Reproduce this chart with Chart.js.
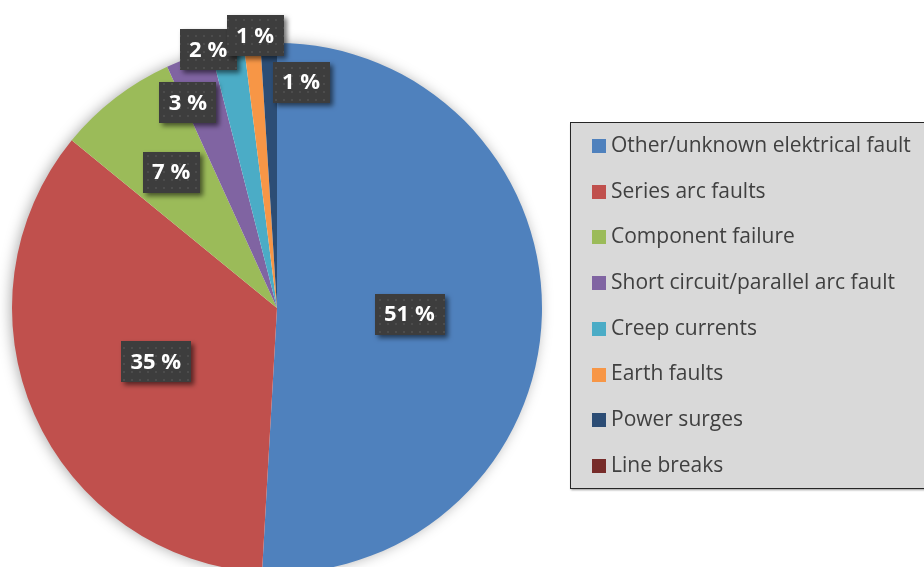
<!DOCTYPE html>
<html>
<head>
<meta charset="utf-8">
<script src="https://cdn.jsdelivr.net/npm/chart.js@4"></script>
<style>
  html, body { margin: 0; padding: 0; background: #fff; overflow: hidden; }
  canvas { display: block; }
</style>
</head>
<body>
<canvas id="myCanvas" width="924" height="600"></canvas>
<script>
// data (percent)
let categories = [
  "Other/unknown elektrical fault",
  "Series arc faults",
  "Component failure",
  "Short circuit/parallel arc fault",
  "Creep currents",
  "Earth faults",
  "Power surges",
  "Line breaks"
];
let shares = [50.9, 35.0, 7.3, 2.8, 2.0, 1.0, 1.0, 0];
let colors = ["#4f81bd", "#c0504d", "#9bbb59", "#8064a2", "#4bacc6", "#f79646", "#2c4d75", "#772c2a"];

// where each data label sits: fraction of radius, angle shift in degrees
let labelSpots = [[0.5, 1.0], [0.5, 0], [0.65, -0.3], [0.845, -4.0], [1.01, -4.1], [1.03, 0.8], [0.857, 7.9]];

function dotPattern(ctx) {
  let p = document.createElement("canvas");
  p.width = 8;
  p.height = 8;
  let c = p.getContext("2d");
  c.fillStyle = "#3d3d3d";
  c.fillRect(0, 0, 8, 8);
  c.fillStyle = "#4c4c4c";
  c.fillRect(3, 3, 2, 2);
  return ctx.createPattern(p, "repeat");
}

// soft shadow behind the whole pie
const pieShadow = {
  id: "pieShadow",
  beforeDatasetsDraw(chart) {
    let arc = chart.getDatasetMeta(0).data[0];
    if (!arc) return;
    let ctx = chart.ctx;
    ctx.save();
    ctx.shadowColor = "rgba(0,0,0,0.35)";
    ctx.shadowBlur = 14;
    ctx.shadowOffsetX = -2;
    ctx.shadowOffsetY = 0;
    ctx.fillStyle = "#ffffff";
    ctx.beginPath();
    ctx.arc(arc.x, arc.y, arc.outerRadius - 1, 0, Math.PI * 2);
    ctx.fill();
    ctx.restore();
  }
};

const boxLabels = {
  id: "boxLabels",
  afterDatasetsDraw(chart) {
    let ctx = chart.ctx;
    let pat = dotPattern(ctx);
    let meta = chart.getDatasetMeta(0);
    ctx.save();
    ctx.font = "bold 22px 'Open Sans'";
    ctx.textAlign = "center";
    ctx.textBaseline = "middle";
    meta.data.forEach(function (arc, i) {
      let v = shares[i];
      if (!v || !labelSpots[i]) return;
      let p = arc.getProps(["x", "y", "startAngle", "endAngle", "outerRadius"], true);
      let mid = (p.startAngle + p.endAngle) / 2 + labelSpots[i][1] * Math.PI / 180;
      let r = p.outerRadius * labelSpots[i][0];
      let cx = p.x + Math.cos(mid) * r;
      let cy = p.y + Math.sin(mid) * r;
      let txt = Math.round(v) + " %";
      let w = ctx.measureText(txt).width + 19;
      let h = 41;
      ctx.save();
      ctx.shadowColor = "rgba(0,0,0,0.55)";
      ctx.shadowBlur = 5;
      ctx.shadowOffsetX = 3;
      ctx.shadowOffsetY = 3;
      ctx.fillStyle = pat;
      ctx.fillRect(Math.round(cx - w / 2), Math.round(cy - h / 2), Math.round(w), h);
      ctx.restore();
      ctx.fillStyle = "#ffffff";
      ctx.fillText(txt, cx, cy + 1);
    });
    ctx.restore();
  }
};

const boxLegend = {
  id: "boxLegend",
  afterDraw(chart) {
    let ctx = chart.ctx;
    ctx.save();
    ctx.shadowColor = "rgba(0,0,0,0.4)";
    ctx.shadowBlur = 2;
    ctx.shadowOffsetX = 1;
    ctx.shadowOffsetY = 2;
    ctx.fillStyle = "#d9d9d9";
    ctx.fillRect(570, 122, 370, 366);
    ctx.restore();
    ctx.save();
    ctx.strokeStyle = "#262626";
    ctx.lineWidth = 1;
    ctx.strokeRect(570.5, 122.5, 370, 366);
    ctx.font = "21px 'Open Sans'";
    ctx.textBaseline = "middle";
    categories.forEach(function (name, i) {
      let y = 146 + i * 45.7;
      ctx.fillStyle = colors[i];
      ctx.fillRect(592, Math.round(y - 7), 14, 14);
      ctx.fillStyle = "#404040";
      ctx.fillText(name, 611, y);
    });
    ctx.restore();
  }
};

let myCanvas = document.getElementById("myCanvas").getContext("2d");
let chart = new Chart(myCanvas, {
  type: "pie",
  data: {
    labels: categories,
    datasets: [
      {
        data: shares,
        backgroundColor: colors,
        borderWidth: 0
      }
    ]
  },
  options: {
    responsive: false,
    animation: false,
    layout: { padding: { left: 12, right: 382, top: 43, bottom: 27 } },
    plugins: {
      legend: { display: false },
      tooltip: { enabled: false }
    }
  },
  plugins: [pieShadow, boxLabels, boxLegend]
});
</script>
</body>
</html>
